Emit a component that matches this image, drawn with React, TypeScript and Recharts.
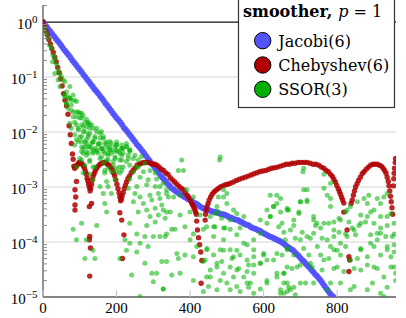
import React from 'react';
import { ScatterChart, Scatter, XAxis, YAxis, ReferenceLine, Legend } from 'recharts';

const CHART_W = 406;
const CHART_H = 318;

const xTicks = [0, 200, 400, 600, 800];
const xDomain: [number, number] = [0, 960];
const yDomain: [number, number] = [1e-5, 2.04];
const yMajorTicks = [1e-5, 1e-4, 1e-3, 1e-2, 1e-1, 1];
const yMinorTicks = [
  2e-5, 3e-5, 4e-5, 5e-5, 6e-5, 7e-5, 8e-5, 9e-5,
  2e-4, 3e-4, 4e-4, 5e-4, 6e-4, 7e-4, 8e-4, 9e-4,
  2e-3, 3e-3, 4e-3, 5e-3, 6e-3, 7e-3, 8e-3, 9e-3,
  2e-2, 3e-2, 4e-2, 5e-2, 6e-2, 7e-2, 8e-2, 9e-2,
  0.2, 0.3, 0.4, 0.5, 0.6, 0.7, 0.8, 0.9, 2,
];
const yTickExponents = ['−5', '−4', '−3', '−2', '−1', '0'];

const legendTitle = 'smoother,';
const legendParam = 'p';
const legendParamValue = '1';
const seriesNames = ['Jacobi(6)', 'Chebyshev(6)', 'SSOR(3)'];
const seriesColors = ['#5252ff', '#b00000', '#00b000'];

// Jacobi(6): [iteration, residual]
const jacobiPoints: [number, number][] = [
  [0, 1], [5, 0.905], [10, 0.82], [15, 0.74], [20, 0.67], [25, 0.605], [30, 0.55], [35, 0.496],
  [40, 0.45], [45, 0.41], [50, 0.37], [55, 0.33], [60, 0.3], [65, 0.272], [70, 0.25], [75, 0.224],
  [80, 0.2], [85, 0.182], [90, 0.165], [95, 0.149], [100, 0.135], [105, 0.123], [110, 0.11],
  [115, 0.1], [120, 0.09], [125, 0.082], [130, 0.074], [135, 0.067], [140, 0.06], [145, 0.055],
  [150, 0.05], [155, 0.045], [160, 0.041], [165, 0.037], [170, 0.033], [175, 0.03], [180, 0.027],
  [185, 0.0245], [190, 0.022], [195, 0.02], [200, 0.018], [205, 0.0165], [210, 0.015], [215, 0.0135],
  [220, 0.012], [225, 0.011], [230, 0.01], [235, 0.009], [240, 0.0082], [245, 0.0074], [250, 0.0067],
  [255, 0.006], [260, 0.0055], [265, 0.005], [270, 0.0045], [275, 0.0041], [280, 0.0037],
  [285, 0.0033], [290, 0.003], [295, 0.0027], [300, 0.0025], [305, 0.0022], [310, 0.002],
  [315, 0.0018], [320, 0.0016], [325, 0.00148], [330, 0.00135], [335, 0.00123], [340, 0.00112],
  [345, 0.00104], [350, 0.00095], [355, 0.0009], [360, 0.00085], [365, 0.0008], [370, 0.00076],
  [375, 0.00072], [380, 0.00069], [385, 0.00066], [390, 0.00063], [395, 0.0006], [400, 0.00058],
  [405, 0.00055], [410, 0.00052], [415, 0.0005], [420, 0.00048], [425, 0.00045], [430, 0.00043],
  [435, 0.00041], [440, 0.0004], [445, 0.00039], [450, 0.00038], [455, 0.00037], [460, 0.00036],
  [465, 0.000355], [470, 0.00035], [475, 0.00034], [480, 0.00033], [485, 0.00032], [490, 0.00032],
  [495, 0.00031], [500, 0.0003], [505, 0.000285], [510, 0.00028], [515, 0.00027], [520, 0.00026],
  [525, 0.000255], [530, 0.00025], [535, 0.000237], [540, 0.00023], [545, 0.00022], [550, 0.00021],
  [555, 0.000204], [560, 0.0002], [565, 0.000188], [570, 0.00018], [575, 0.000176], [580, 0.00017],
  [585, 0.000164], [590, 0.00016], [595, 0.000151], [600, 0.000145], [605, 0.000138], [610, 0.000132],
  [615, 0.000127], [620, 0.000123], [625, 0.000119], [630, 0.000115], [635, 0.000111], [640, 0.000107],
  [645, 0.000103], [650, 0.000098], [655, 0.000093], [660, 0.000087], [665, 0.000082], [670, 0.000078],
  [675, 0.000074], [680, 0.000071], [685, 0.000065], [690, 0.00006], [695, 0.000056], [700, 0.000051],
  [705, 0.000047], [710, 0.000044], [715, 0.00004], [720, 0.000037], [725, 0.000034], [730, 0.000031],
  [735, 0.0000285], [740, 0.000026], [745, 0.000024], [750, 0.000022], [755, 0.00002], [760, 0.000018],
  [765, 0.000016], [770, 0.0000145], [775, 0.000013], [780, 0.0000117], [785, 0.0000108], [790, 0.00001],
];

// Chebyshev(6): [iteration, residual]
const chebyshevPoints: [number, number][] = [
  [0, 1], [4, 0.83], [8, 0.69], [12, 0.58], [16, 0.48], [20, 0.4], [24, 0.33], [28, 0.28], [32, 0.23],
  [36, 0.19], [40, 0.15], [44, 0.12], [48, 0.093], [52, 0.069], [56, 0.05], [60, 0.038], [64, 0.03],
  [68, 0.021], [71, 0.013], [74, 0.0089], [77, 0.0062], [80, 0.004], [82, 0.0032], [84, 0.0024],
  [86, 0.0022], [89, 0.0023], [92, 0.0025], [95, 0.0026], [98, 0.0028], [101, 0.0028], [104, 0.0027],
  [107, 0.0026], [110, 0.0024], [113, 0.0022], [116, 0.0019], [118, 0.0017], [120, 0.00145],
  [122, 0.00129], [124, 0.00112], [126, 0.00098], [128, 0.00085],
  [130, 0.00095], [132, 0.00112], [134, 0.00135], [136, 0.00155], [139, 0.00174], [142, 0.00195],
  [146, 0.0022], [150, 0.0024], [155, 0.0026], [160, 0.0027], [165, 0.0028], [170, 0.0028],
  [175, 0.0026], [180, 0.0025], [184, 0.0023], [188, 0.0021], [192, 0.0018], [195, 0.0016],
  [198, 0.00135], [201, 0.00112], [204, 0.00093], [207, 0.00078], [209, 0.00066], [211, 0.00056],
  [213, 0.0006], [215, 0.00068], [218, 0.00079], [221, 0.00093], [224, 0.00107], [227, 0.00123],
  [231, 0.00141], [235, 0.00158], [240, 0.00182], [245, 0.002], [250, 0.0022], [256, 0.0025],
  [262, 0.0026], [268, 0.0027], [274, 0.0028], [280, 0.0028], [286, 0.0028], [292, 0.0027],
  [298, 0.0026], [304, 0.0026], [310, 0.0025], [316, 0.0023], [322, 0.0021], [328, 0.002],
  [334, 0.0018], [340, 0.0017], [346, 0.00148], [352, 0.00135], [358, 0.00123], [364, 0.00112],
  [370, 0.00102], [376, 0.00095], [382, 0.00089], [387, 0.00079], [392, 0.00071], [396, 0.00065],
  [400, 0.00058], [404, 0.00051], [407, 0.00047], [410, 0.00043], [413, 0.00039], [415, 0.00035],
  [417, 0.00032], [418, 0.00024], [420, 0.000166], [423, 0.00012], [426, 0.000089], [429, 0.000066],
  [432, 0.000046], [430, 0.0000178],
  [441, 0.00025], [442, 0.00032], [444, 0.00038], [446, 0.00044], [449, 0.0005], [452, 0.00058],
  [456, 0.00066], [460, 0.00074], [465, 0.00081], [470, 0.00087], [476, 0.00093], [482, 0.001],
  [489, 0.00105], [496, 0.0011], [503, 0.00112], [510, 0.00117], [518, 0.00123], [526, 0.00132],
  [534, 0.00138], [542, 0.00145], [550, 0.00151], [558, 0.00158], [566, 0.00166], [574, 0.00174],
  [582, 0.00182], [590, 0.00191], [598, 0.00195], [606, 0.002], [614, 0.0021], [622, 0.0022],
  [630, 0.00224], [638, 0.0023], [646, 0.0024], [654, 0.0025], [662, 0.0026], [670, 0.0026],
  [678, 0.0027], [686, 0.0027], [694, 0.0028], [702, 0.0028], [710, 0.0028], [718, 0.0028],
  [726, 0.0027], [734, 0.0026], [742, 0.0026], [750, 0.0025], [757, 0.0023], [764, 0.0022],
  [770, 0.002], [776, 0.0019], [782, 0.0017], [787, 0.00155], [791, 0.00138], [795, 0.00123],
  [799, 0.00107], [803, 0.00093], [806, 0.00083], [809, 0.00074], [812, 0.00065], [815, 0.00058],
  [818, 0.00051], [818, 0.00035], [827, 0.000166], [832, 0.000054], [834, 0.000047], [832, 0.000029],
  [838, 0.0005], [841, 0.00058], [844, 0.00071], [847, 0.00085], [850, 0.001], [854, 0.00115],
  [858, 0.00132], [863, 0.00151], [868, 0.00174], [873, 0.0019], [879, 0.0021], [885, 0.0023],
  [891, 0.0025], [897, 0.0026], [903, 0.0026], [909, 0.0026], [915, 0.0025], [920, 0.0024],
  [925, 0.0022], [929, 0.002], [933, 0.00178], [936, 0.00151], [939, 0.00126], [941, 0.00105],
  [943, 0.00085], [945, 0.00068], [947, 0.00054], [949, 0.00042], [951, 0.00032],
  [953, 0.00105], [954, 0.00141], [955, 0.00178], [956, 0.0022], [958, 0.0028], [959, 0.0033],
  [87, 0.00089], [87, 0.00047], [87, 0.00038], [91, 0.00126], [89, 0.00066], [126, 0.00044],
  [132, 0.0005], [127, 0.000126], [126, 0.00011], [129, 0.000078], [127, 0.000024], [209, 0.00034],
  [214, 0.00025], [220, 0.000135], [216, 0.00005],
];

// SSOR(3): [iteration, residual]
const ssorPoints: [number, number][] = [
  [5, 0.77], [9, 0.62], [14, 0.5], [18, 0.38], [23, 0.33], [27, 0.25], [32, 0.22], [26, 0.19],
  [37, 0.17], [41, 0.134], [32, 0.116], [46, 0.116], [50, 0.101], [41, 0.088], [55, 0.088],
  [59, 0.082], [46, 0.067], [73, 0.067], [64, 0.054], [59, 0.047], [68, 0.044], [73, 0.041],
  [77, 0.038], [82, 0.047], [91, 0.036], [64, 0.033], [77, 0.031], [68, 0.027], [82, 0.023],
  [96, 0.023], [105, 0.022], [109, 0.02], [91, 0.019], [100, 0.018], [114, 0.015], [123, 0.015],
  [86, 0.015], [105, 0.0135], [118, 0.0126], [127, 0.0135], [96, 0.0117], [136, 0.0117],
  [109, 0.0102], [127, 0.0095], [146, 0.0102], [155, 0.0095], [100, 0.0081], [123, 0.0081],
  [141, 0.0076], [164, 0.0076], [114, 0.0066], [132, 0.0062], [150, 0.0062], [173, 0.0066],
  [105, 0.0054], [123, 0.0054], [141, 0.005], [159, 0.005], [182, 0.0054], [200, 0.0058],
  [118, 0.0044], [136, 0.0044], [164, 0.0044], [186, 0.0047], [214, 0.005], [227, 0.0054],
  [236, 0.0044], [109, 0.0041], [150, 0.0041], [177, 0.0041], [209, 0.0041], [196, 0.0044],
  [91, 0.0072], [105, 0.0067], [118, 0.0062], [136, 0.0066], [155, 0.0062], [173, 0.0058],
  [186, 0.0062], [200, 0.0066], [214, 0.0058], [227, 0.0062], [109, 0.005], [127, 0.0054],
  [146, 0.0047], [164, 0.005], [182, 0.0047], [200, 0.0047], [218, 0.005], [236, 0.0047],
  [118, 0.0038], [136, 0.0041], [159, 0.0035], [177, 0.0038], [196, 0.0035], [214, 0.0038],
  [232, 0.0038], [105, 0.0031], [127, 0.0029], [173, 0.0031], [191, 0.0029], [209, 0.0031],
  [227, 0.0029], [246, 0.0033], [141, 0.0023], [177, 0.0022], [200, 0.0022], [218, 0.0023],
  [255, 0.0023], [109, 0.0018], [127, 0.0017], [168, 0.0018], [186, 0.0019], [209, 0.0018],
  [273, 0.0019], [291, 0.002], [305, 0.0018], [136, 0.00135], [173, 0.00126], [196, 0.00135],
  [236, 0.0014], [264, 0.0015], [286, 0.00135], [309, 0.0014], [155, 0.00102], [177, 0.00102],
  [232, 0.00095], [255, 0.00102], [282, 0.0011], [305, 0.00102], [327, 0.00117], [164, 0.00076],
  [186, 0.00076], [250, 0.00076], [264, 0.00066], [291, 0.00071], [314, 0.00076], [336, 0.00089],
  [246, 0.00054], [273, 0.0005], [296, 0.00058], [318, 0.00062], [341, 0.00066], [168, 0.0005],
  [173, 0.00035], [259, 0.00035], [282, 0.00038], [305, 0.00041], [323, 0.00047], [336, 0.00035],
  [291, 0.00029], [314, 0.00031], [332, 0.00027], [236, 0.00022], [282, 0.0002], [305, 0.00023],
  [105, 0.00022], [146, 0.0002], [82, 0.00017], [255, 0.00014], [277, 0.000126], [300, 0.000126],
  [318, 0.000126], [336, 0.00014], [118, 0.00011], [223, 0.00011], [236, 0.000095], [264, 0.000095],
  [286, 0.000083], [227, 0.000071], [255, 0.000066], [209, 0.00005], [141, 0.00005], [277, 0.000041],
  [323, 0.000044], [241, 0.000025], [296, 0.000027], [309, 0.000027], [300, 0.000019],
  [327, 0.000014], [264, 0.0000102], [114, 0.00005], [91, 0.00011], [136, 0.000071],
  [59, 0.044], [73, 0.041], [86, 0.038], [64, 0.033], [77, 0.025], [91, 0.023], [100, 0.022],
  [82, 0.019], [105, 0.018], [118, 0.017], [73, 0.0145], [91, 0.0135], [109, 0.0126], [123, 0.0145],
  [132, 0.0135], [77, 0.0117], [96, 0.011], [114, 0.0102], [127, 0.0117], [146, 0.0117], [159, 0.0102],
  [86, 0.0089], [105, 0.0083], [123, 0.0089], [141, 0.0083], [155, 0.0078], [164, 0.0083],
  [96, 0.0067], [118, 0.0072], [136, 0.0067], [150, 0.0058], [168, 0.0062], [182, 0.0067],
  [196, 0.0054], [86, 0.0058], [114, 0.0054], [132, 0.005], [159, 0.005], [177, 0.005], [200, 0.0058],
  [214, 0.005], [227, 0.0054], [105, 0.0044], [123, 0.0041], [146, 0.0044], [168, 0.0041],
  [186, 0.0041], [205, 0.0044], [218, 0.0041], [236, 0.0047], [250, 0.0038], [100, 0.0033],
  [127, 0.0031], [155, 0.0033], [177, 0.0031], [196, 0.0033], [214, 0.0031], [232, 0.0033],
  [259, 0.0031], [268, 0.0036], [114, 0.0025], [136, 0.0023], [164, 0.0027], [191, 0.0025],
  [209, 0.0023], [236, 0.0025], [259, 0.0023], [277, 0.0027], [91, 0.0023], [168, 0.002],
  [200, 0.0019], [214, 0.002], [246, 0.0019],
  [377, 0.0031], [368, 0.002], [382, 0.002], [482, 0.0035], [480, 0.0031], [318, 0.00102],
  [336, 0.00076], [355, 0.00066], [373, 0.00071], [391, 0.00089], [409, 0.00066], [327, 0.00038],
  [346, 0.00035], [373, 0.00031], [400, 0.00035], [427, 0.00031], [455, 0.00029], [473, 0.00044],
  [477, 0.00035], [491, 0.00066], [500, 0.00076], [486, 0.00027], [509, 0.00025], [527, 0.00033],
  [546, 0.00029], [350, 0.00017], [359, 0.00017], [386, 0.00019], [409, 0.00014], [436, 0.00017],
  [464, 0.00019], [491, 0.00018], [509, 0.00017], [536, 0.00018], [332, 0.000126], [400, 0.00011],
  [418, 0.000083], [446, 0.000076], [491, 0.000071], [527, 0.000071], [555, 0.000089], [573, 0.00011],
  [364, 0.000062], [386, 0.000058], [409, 0.000054], [464, 0.000058], [486, 0.000044], [514, 0.00005],
  [536, 0.000058], [573, 0.000054], [600, 0.000058], [336, 0.000044], [368, 0.00005], [436, 0.000044],
  [473, 0.000035], [509, 0.000035], [532, 0.000033], [555, 0.000029], [573, 0.000038], [591, 0.000041],
  [627, 0.000047], [664, 0.000035], [350, 0.000025], [373, 0.000027], [409, 0.00002], [455, 0.000023],
  [482, 0.00002], [518, 0.000023], [546, 0.000023], [564, 0.000018], [609, 0.00002], [636, 0.000027],
  [655, 0.000018], [668, 0.000015], [327, 0.000014], [436, 0.0000126], [509, 0.0000135],
  [536, 0.0000126], [559, 0.000015], [591, 0.000014], [646, 0.0000135], [664, 0.0000126],
  [591, 0.00025], [609, 0.00038], [618, 0.00029], [627, 0.00044], [636, 0.0005], [650, 0.00022],
  [668, 0.00038], [636, 0.00071], [646, 0.00062], [618, 0.00071],
  [491, 0.00089], [477, 0.00066], [468, 0.00033], [500, 0.0005], [518, 0.00038], [445, 0.00019],
  [468, 0.00019], [495, 0.00018], [464, 0.000126], [491, 0.00011], [527, 0.000135], [546, 0.000095],
  [445, 0.000072], [482, 0.000072], [509, 0.000072], [441, 0.000047], [473, 0.000041], [518, 0.000054],
  [555, 0.000047], [455, 0.000031], [491, 0.000027], [527, 0.000031], [559, 0.000038], [573, 0.000072],
  [600, 0.000062], [591, 0.000145], [609, 0.00022], [618, 0.00029], [627, 0.00044], [646, 0.00035],
  [664, 0.00041], [641, 0.00019], [673, 0.000166], [696, 0.00033], [700, 0.00011], [718, 0.000126],
  [736, 0.000145], [745, 0.00022], [718, 0.00058], [709, 0.00089], [700, 0.00054], [682, 0.00025],
  [664, 0.000072], [636, 0.000062], [609, 0.000047], [591, 0.000041], [573, 0.000027], [555, 0.000018],
  [527, 0.0000155], [500, 0.000018], [473, 0.0000135], [450, 0.0000155], [445, 0.000023],
  [573, 0.0000117], [609, 0.000018], [636, 0.000023], [655, 0.000027], [691, 0.000035], [727, 0.000041],
  [700, 0.000018], [736, 0.000018], [673, 0.0000135], [646, 0.0000117], [764, 0.000047],
  [791, 0.000072], [809, 0.000095], [827, 0.000126], [846, 0.000166], [864, 0.00022], [882, 0.00029],
  [900, 0.00038], [918, 0.0005], [936, 0.00029], [773, 0.00011], [800, 0.000035], [836, 0.000047],
  [864, 0.000072], [891, 0.000095], [918, 0.000145], [936, 0.000072], [864, 0.000031], [900, 0.000035],
  [927, 0.000023], [809, 0.000018], [846, 0.0000155], [882, 0.0000135], [918, 0.0000117],
  [946, 0.000035], [950, 0.000126], [773, 0.0000135], [791, 0.000166], [764, 0.00022], [782, 0.00044],
  [809, 0.00025], [827, 0.00038], [882, 0.0005], [909, 0.000145],
  [709, 0.0022], [707, 0.0019], [764, 0.0017], [782, 0.00117], [718, 0.00089], [764, 0.00095],
  [773, 0.00071], [782, 0.00062], [664, 0.00038], [696, 0.00035], [700, 0.00054], [718, 0.00054],
  [736, 0.00029], [736, 0.00025], [741, 0.0002], [682, 0.0002], [655, 0.00015], [705, 0.00015],
  [755, 0.00018], [777, 0.00022], [791, 0.00023], [805, 0.00027], [823, 0.00035], [836, 0.00044],
  [855, 0.00054], [873, 0.00062], [886, 0.00071], [909, 0.00062], [927, 0.00066], [936, 0.00076],
  [864, 0.00031], [891, 0.00035], [918, 0.00029], [946, 0.00033], [832, 0.00023], [841, 0.00018],
  [859, 0.0002], [877, 0.00023], [900, 0.00022], [918, 0.00018], [936, 0.0002], [955, 0.00022],
  [659, 0.00011], [686, 0.000117], [727, 0.000117], [759, 0.000117], [791, 0.000126], [805, 0.00015],
  [823, 0.00014], [850, 0.000135], [891, 0.000135], [909, 0.00011], [932, 0.000126], [955, 0.00014],
  [664, 0.000076], [709, 0.000076], [746, 0.000083], [782, 0.000083], [800, 0.000071], [823, 0.000083],
  [864, 0.000076], [900, 0.000083], [936, 0.000083], [955, 0.000089], [650, 0.000058], [682, 0.000058],
  [723, 0.000058], [755, 0.000058], [777, 0.00005], [809, 0.000058], [855, 0.00005], [882, 0.000054],
  [918, 0.000058], [946, 0.000054], [655, 0.000027], [677, 0.000033], [700, 0.000038], [732, 0.000035],
  [759, 0.000031], [791, 0.000033], [818, 0.000029], [846, 0.000033], [882, 0.000038], [909, 0.000033],
  [664, 0.000018], [682, 0.000015], [714, 0.000018], [782, 0.000018], [836, 0.0000135], [896, 0.000018],
  [936, 0.000015], [655, 0.0000117], [686, 0.000011], [927, 0.0000102], [955, 0.000066],
  [955, 0.000035], [959, 0.000027], [959, 0.00002],
];

const toData = (pts: [number, number][]) => pts.map(([x, y]) => ({ x, y }));
const jacobiData = toData(jacobiPoints);
const chebyshevData = toData(chebyshevPoints);
const ssorData = toData(ssorPoints);

const TICK_FONT = '"Liberation Serif", "Times New Roman", serif';
const LEGEND_FONT = '"DejaVu Serif", serif';
const AXIS_COLOR = '#5a5a5a';
const GRID_COLOR = '#d4d4d4';

const makeDot = (r: number, fill: string, opacity: number) => (props: any) => {
  if (props.cx == null || props.cy == null) return <g />;
  return <circle cx={props.cx} cy={props.cy} r={r} fill={fill} fillOpacity={opacity} />;
};

const LeftYTick = (props: any) => {
  const { x, y, payload } = props;
  const idx = yMajorTicks.indexOf(payload.value);
  if (idx < 0) {
    return <line x1={x} x2={x + 4} y1={y} y2={y} stroke="#8a8a8a" strokeWidth={1} />;
  }
  return (
    <text x={x - 5.5} y={y + 6.5} textAnchor="end" fontFamily={TICK_FONT} fontSize={15} fill="#000">
      10
      <tspan dy={-5.5} fontSize={11}>{yTickExponents[idx]}</tspan>
    </text>
  );
};

const RightYTick = (props: any) => {
  const { x, y, payload } = props;
  if (yMajorTicks.indexOf(payload.value) >= 0) return <g />;
  return <line x1={x} x2={x - 4} y1={y} y2={y} stroke="#8a8a8a" strokeWidth={1} />;
};

const BottomXTick = (props: any) => {
  const { x, y, payload } = props;
  return (
    <g>
      <line x1={x} x2={x} y1={y} y2={y - 7} stroke="#c4c4c4" strokeWidth={1} />
      <text x={x} y={y + 15.5} textAnchor="middle" fontFamily={TICK_FONT} fontSize={15} fill="#000">
        {payload.value}
      </text>
    </g>
  );
};

const TopXTick = (props: any) => {
  const { x, y } = props;
  return <line x1={x} x2={x} y1={y} y2={y + 7} stroke="#c4c4c4" strokeWidth={1} />;
};

const renderLegend = (props: any) => {
  const items: any[] = [...(props.payload || [])].sort(
    (a, b) => seriesNames.indexOf(a.value) - seriesNames.indexOf(b.value),
  );
  return (
    <svg width={157} height={108} style={{ display: 'block', overflow: 'visible' }}>
      <rect x={0.5} y={-2} width={156} height={109.5} fill="#fff" stroke="#333" strokeWidth={1.2} />
      <text x={5} y={17} fontFamily={LEGEND_FONT} fontSize={16} fill="#000">
        <tspan fontWeight="bold">{legendTitle}</tspan>
        <tspan dx={6} fontStyle="italic">{legendParam}</tspan>
        <tspan dx={5}>=</tspan>
        <tspan dx={5}>{legendParamValue}</tspan>
      </text>
      {items.map((it, i) => (
        <g key={i}>
          <circle cx={24.7} cy={40.7 + i * 24.3} r={8.2} fill={it.color} stroke="#000" strokeWidth={1} />
          <text x={40.3} y={46.5 + i * 24} fontFamily={LEGEND_FONT} fontSize={16} fill="#000">
            {it.value}
          </text>
        </g>
      ))}
    </svg>
  );
};

export default function App() {
  return (
    <div style={{ position: 'absolute', left: 0, top: 0, width: CHART_W, height: CHART_H, background: '#fff' }}>
      <ScatterChart width={CHART_W} height={CHART_H} margin={{ top: 5, right: 10, bottom: 0, left: 0 }}>
        <XAxis
          xAxisId={0}
          dataKey="x"
          type="number"
          domain={xDomain}
          ticks={xTicks}
          interval={0}
          allowDataOverflow
          height={21}
          tickSize={0}
          tickMargin={0}
          tickLine={false}
          tick={<BottomXTick />}
          axisLine={{ stroke: AXIS_COLOR, strokeWidth: 1.3 }}
        />
        <XAxis
          xAxisId="top"
          orientation="top"
          type="number"
          domain={xDomain}
          ticks={xTicks}
          interval={0}
          allowDataOverflow
          height={0}
          tickSize={0}
          tickMargin={0}
          tickLine={false}
          tick={<TopXTick />}
          axisLine={{ stroke: AXIS_COLOR, strokeWidth: 1.3 }}
        />
        <YAxis
          yAxisId={0}
          dataKey="y"
          type="number"
          scale="log"
          domain={yDomain}
          ticks={[...yMajorTicks, ...yMinorTicks]}
          interval={0}
          allowDataOverflow
          width={43}
          tickSize={0}
          tickMargin={0}
          tickLine={false}
          tick={<LeftYTick />}
          axisLine={{ stroke: AXIS_COLOR, strokeWidth: 1.3 }}
        />
        <YAxis
          yAxisId="right"
          orientation="right"
          type="number"
          scale="log"
          domain={yDomain}
          ticks={[...yMajorTicks, ...yMinorTicks]}
          interval={0}
          allowDataOverflow
          width={0}
          tickSize={0}
          tickMargin={0}
          tickLine={false}
          tick={<RightYTick />}
          axisLine={{ stroke: AXIS_COLOR, strokeWidth: 1.3 }}
        />
        {yMajorTicks.slice(1, -1).map((v) => (
          <ReferenceLine key={v} yAxisId={0} y={v} stroke={GRID_COLOR} strokeWidth={1} />
        ))}
        <ReferenceLine yAxisId={0} y={1} stroke="#111" strokeWidth={1.2} />
        <Legend
          layout="horizontal"
          verticalAlign="middle"
          align="center"
          content={renderLegend}
          wrapperStyle={{ top: 0, left: 238, width: 157, height: 108 }}
        />
        <Scatter
          name={seriesNames[0]}
          data={jacobiData}
          fill={seriesColors[0]}
          shape={makeDot(3, seriesColors[0], 0.95)}
          isAnimationActive={false}
        />
        <Scatter
          name={seriesNames[1]}
          data={chebyshevData}
          fill={seriesColors[1]}
          shape={makeDot(2.7, seriesColors[1], 0.85)}
          isAnimationActive={false}
        />
        <Scatter
          name={seriesNames[2]}
          data={ssorData}
          fill={seriesColors[2]}
          shape={makeDot(2.5, seriesColors[2], 0.55)}
          isAnimationActive={false}
        />
      </ScatterChart>
    </div>
  );
}
